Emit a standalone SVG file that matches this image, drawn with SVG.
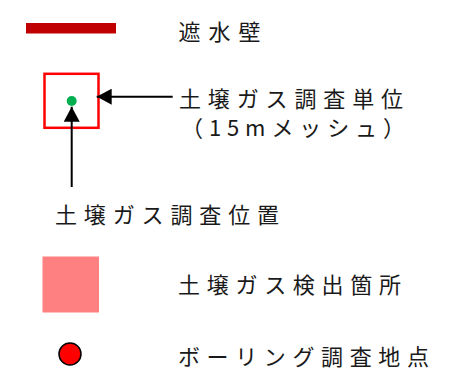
<svg xmlns="http://www.w3.org/2000/svg" width="461" height="382" viewBox="0 0 461 382">
<style>
.t{font-family:"Noto Sans CJK JP","Noto Sans",sans-serif;font-size:22px;fill:#1a1a1a;}
.ln{stroke:#000;stroke-width:2;fill:none;}
</style>
<defs>
<marker id="ah" viewBox="0 0 15 16" refX="15" refY="8" markerWidth="15" markerHeight="16" markerUnits="userSpaceOnUse" orient="auto">
<path d="M0,0 L15,8 L0,16 Z" fill="#000"/>
</marker>
</defs>
<rect width="461" height="382" fill="#fff"/>
<g id="wall">
<rect x="26" y="23" width="90" height="10.5" fill="#C00000"/>
<text class="t" x="178.5" y="40" textLength="82" lengthAdjust="spacing">遮水壁</text>
</g>
<g id="mesh">
<rect x="44.5" y="73.8" width="54" height="54" fill="none" stroke="#FF0000" stroke-width="2.5"/>
<circle cx="71.7" cy="101" r="5" fill="#00B050"/>
<text class="t" x="179" y="106.5" textLength="224" lengthAdjust="spacing">土壌ガス調査単位</text>
<text class="t" x="181" y="136" textLength="224" lengthAdjust="spacing">（15mメッシュ）</text>
</g>
<g id="position">
<text class="t" x="55" y="222.5" textLength="224" lengthAdjust="spacing">土壌ガス調査位置</text>
</g>
<g id="detected">
<rect x="42.5" y="256.5" width="56.5" height="56" fill="#FF8080"/>
<text class="t" x="178" y="292.5" textLength="223" lengthAdjust="spacing">土壌ガス検出箇所</text>
</g>
<g id="boring">
<circle cx="70" cy="354" r="11" fill="#FF0000" stroke="#000" stroke-width="1.5"/>
<text class="t" x="178" y="365" textLength="251" lengthAdjust="spacing">ボーリング調査地点</text>
</g>
<g id="connectors">
<line class="ln" x1="172.7" y1="96.7" x2="96.7" y2="96.7" marker-end="url(#ah)"/>
<line class="ln" x1="71.7" y1="187" x2="71.7" y2="106.7" marker-end="url(#ah)"/>
</g>
</svg>
